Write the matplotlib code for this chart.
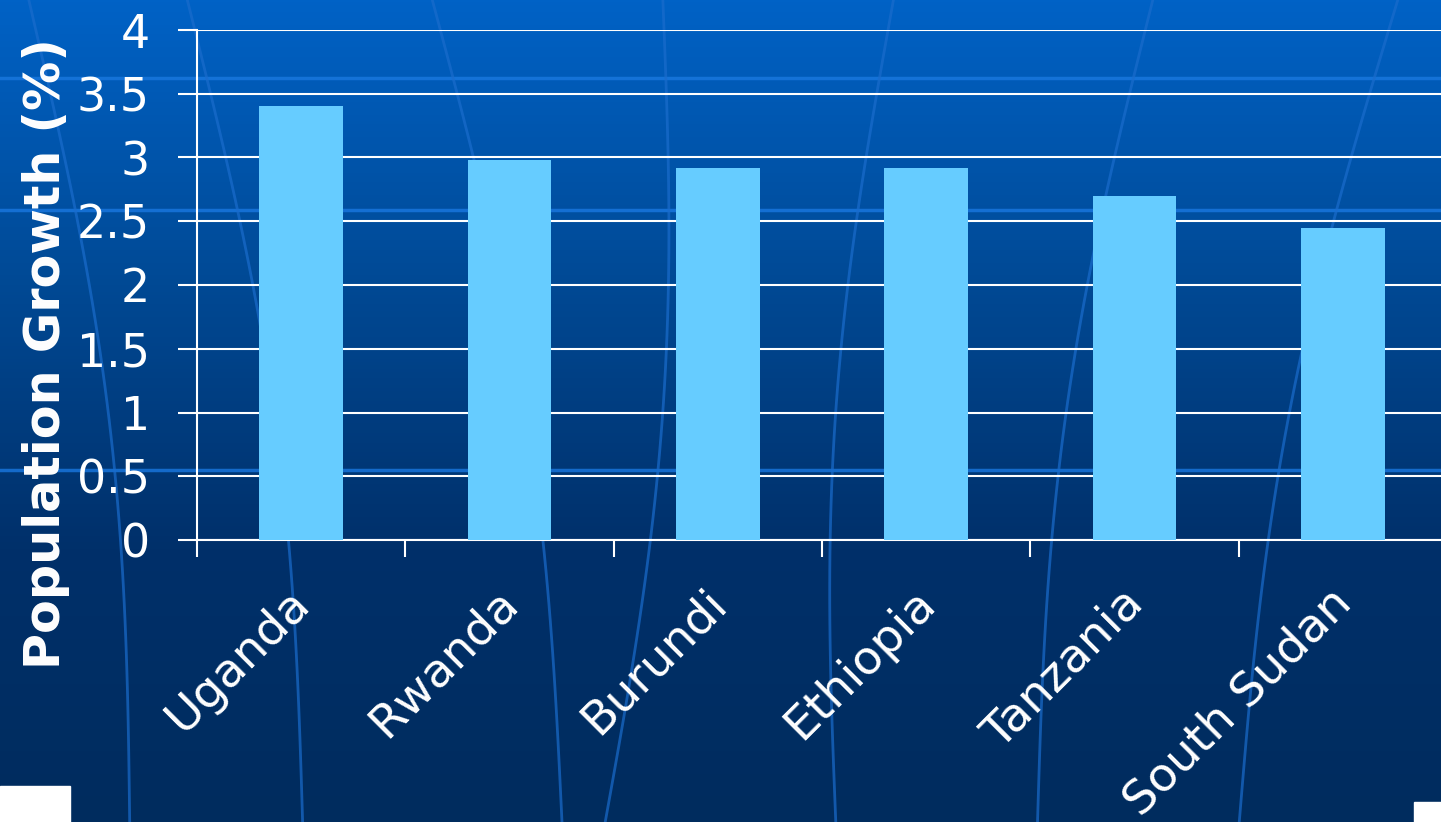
import matplotlib
matplotlib.use("Agg")
import matplotlib.pyplot as plt
import matplotlib.transforms as mtransforms
import numpy as np
from matplotlib.patches import Rectangle
from matplotlib.colors import LinearSegmentedColormap

countries = ["Uganda", "Rwanda", "Burundi", "Ethiopia", "Tanzania", "South Sudan"]
growth = [3.40, 2.98, 2.92, 2.92, 2.70, 2.45]
yticks = [0, 0.5, 1, 1.5, 2, 2.5, 3, 3.5, 4]
ytick_labels = ["0", "0.5", "1", "1.5", "2", "2.5", "3", "3.5", "4"]

fig = plt.figure(figsize=(14.41, 8.22), dpi=100)

# slide background: vertical blue gradient
bg = fig.add_axes([0, 0, 1, 1], zorder=0)
grad = np.linspace(0, 1, 256).reshape(-1, 1)
cmap = LinearSegmentedColormap.from_list("slide", ["#0062c6", "#004a96", "#00306a", "#002c5e"])
bg.imshow(grad, aspect="auto", cmap=cmap, extent=[0, 1, 0, 1], origin="upper")
# faint globe lines
for y in [0.905, 0.745, 0.428]:
    bg.plot([0, 1], [y, y], color="#1a78e0", lw=2.5, alpha=0.8)
for x0, x1 in [(0.02, 0.09), (0.13, 0.21), (0.30, 0.39), (0.46, 0.42), (0.62, 0.58), (0.80, 0.72), (0.97, 0.86)]:
    t = np.linspace(0, 1, 50)
    xs = x0 + (x1 - x0) * t + 0.02 * np.sin(np.pi * t) * np.sign(0.5 - x0)
    bg.plot(xs, 1 - t, color="#1a6ccc", lw=2, alpha=0.7)
bg.add_patch(Rectangle((0, 0), 70 / 1441, 36 / 822, color="white"))
bg.add_patch(Rectangle((1414 / 1441, 0), 27 / 1441, 20 / 822, color="white"))
bg.set_xlim(0, 1)
bg.set_ylim(0, 1)
bg.axis("off")

ax = fig.add_axes([197 / 1441, 1 - 540 / 822, 1250 / 1441, 510 / 822], zorder=1)
ax.patch.set_alpha(0)
x = np.arange(len(countries))
ax.bar(x, growth, width=0.4, color="#66ccff", zorder=3)

ax.set_xlim(-0.5, len(countries) - 0.5)
ax.set_ylim(0, 4)
ax.set_yticks(yticks)
ax.set_yticklabels(ytick_labels)
ax.yaxis.grid(True, color="white", lw=1.5, zorder=1)
ax.set_axisbelow(True)

ax.set_xticks(x)
ax.set_xticklabels(countries, rotation=45, ha="right", rotation_mode="anchor")
ax.set_xticks(np.arange(-0.5, len(countries)), minor=True)
ax.tick_params(axis="x", which="major", length=0, pad=29, labelsize=34, labelcolor="white")
ax.tick_params(axis="x", which="minor", length=12, width=1.5, color="white")
ax.tick_params(axis="y", length=14, width=1.5, color="white", labelsize=33, labelcolor="white", pad=20)
shift = mtransforms.ScaledTranslation(-14 / 100, 0, fig.dpi_scale_trans)
for lab in ax.get_xticklabels():
    lab.set_transform(lab.get_transform() + shift)

for s in ["top", "right"]:
    ax.spines[s].set_visible(False)
ax.spines["left"].set_color("white")
ax.spines["left"].set_linewidth(1.5)
ax.spines["bottom"].set_color("white")
ax.spines["bottom"].set_linewidth(1.5)

ax.set_ylabel("Population Growth (%)", fontsize=35.5, fontweight="bold", color="white")
ax.yaxis.set_label_coords(-0.102, 0.365)

fig.savefig("out.png", dpi=100)
